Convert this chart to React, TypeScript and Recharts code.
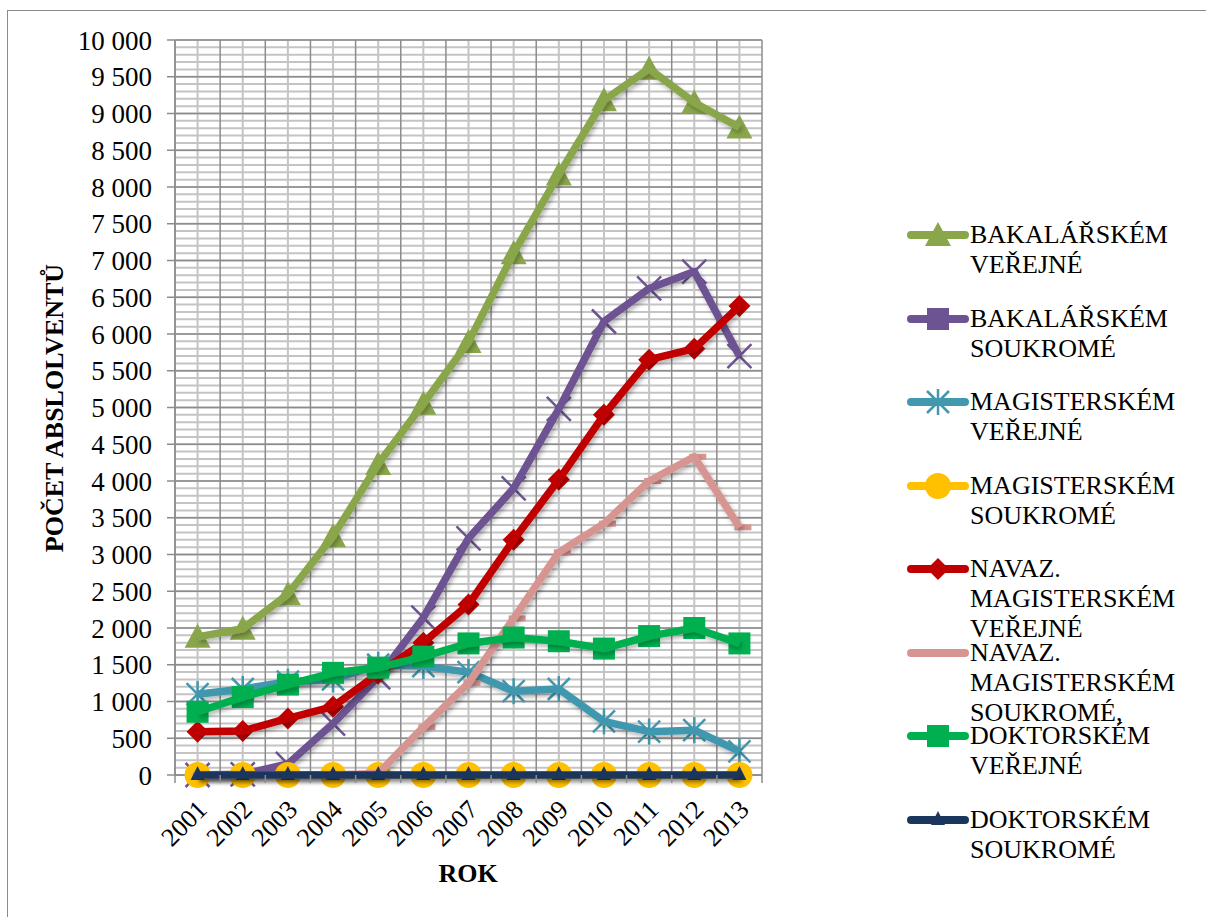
import React from 'react';
import { LineChart, Line, XAxis, YAxis, CartesianGrid } from 'recharts';

const years = ['2001', '2002', '2003', '2004', '2005', '2006', '2007', '2008', '2009', '2010', '2011', '2012', '2013'];

const bakalarskeVerejne = [1880, 1990, 2460, 3250, 4230, 5050, 5890, 7100, 8170, 9180, 9610, 9150, 8810];
const bakalarskeSoukrome = [0, 10, 150, 700, 1330, 2140, 3220, 3900, 4980, 6170, 6620, 6850, 5700];
const magisterskeVerejne = [1100, 1170, 1270, 1300, 1500, 1480, 1400, 1140, 1170, 730, 590, 610, 320];
const magisterskeSoukrome = [0, 0, 0, 0, 0, 0, 0, 0, 0, 0, 0, 0, 0];
const navazVerejne = [590, 600, 770, 930, 1380, 1800, 2320, 3200, 4020, 4900, 5650, 5800, 6380];
const navazSoukrome = [0, 0, 0, 0, 20, 650, 1250, 2130, 3030, 3420, 4000, 4330, 3370];
const doktorskeVerejne = [860, 1060, 1230, 1390, 1460, 1610, 1790, 1870, 1820, 1720, 1890, 2000, 1790];
const doktorskeSoukrome = [0, 0, 0, 0, 0, 0, 0, 0, 0, 0, 0, 0, 0];

const yTicks = [0, 500, 1000, 1500, 2000, 2500, 3000, 3500, 4000, 4500, 5000, 5500, 6000, 6500, 7000, 7500, 8000, 8500, 9000, 9500, 10000];

const series = [
  { key: 'bv', name: 'BAKALÁŘSKÉM VEŘEJNÉ', values: bakalarskeVerejne, color: '#8AA64B', marker: 'triangle' },
  { key: 'bs', name: 'BAKALÁŘSKÉM SOUKROMÉ', values: bakalarskeSoukrome, color: '#6D5392', marker: 'x' },
  { key: 'mv', name: 'MAGISTERSKÉM VEŘEJNÉ', values: magisterskeVerejne, color: '#4198AF', marker: 'star' },
  { key: 'ms', name: 'MAGISTERSKÉM SOUKROMÉ', values: magisterskeSoukrome, color: '#FFC000', marker: 'circle' },
  { key: 'nv', name: 'NAVAZ. MAGISTERSKÉM VEŘEJNÉ', values: navazVerejne, color: '#C00000', marker: 'diamond' },
  { key: 'ns', name: 'NAVAZ. MAGISTERSKÉM SOUKROMÉ,', values: navazSoukrome, color: '#D79592', marker: 'dash' },
  { key: 'dv', name: 'DOKTORSKÉM VEŘEJNÉ', values: doktorskeVerejne, color: '#00B050', marker: 'square' },
  { key: 'ds', name: 'DOKTORSKÉM SOUKROMÉ', values: doktorskeSoukrome, color: '#1B365D', marker: 'smalltriangle' },
];

const data = years.map((year, i) => {
  const row: Record<string, string | number> = { year };
  series.forEach((s) => {
    row[s.key] = s.values[i];
  });
  return row;
});

const FONT = '"Liberation Serif", "Times New Roman", serif';
const W = 1206;
const H = 917;
const PLOT_LEFT = 175;
const PLOT_TOP = 40;
const PLOT_W = 587;
const PLOT_H = 735;
const BAND = PLOT_W / years.length;

const minorY: number[] = [];
for (let v = 0; v <= 10000; v += 100) minorY.push(v);

const fmt = (v: number) => String(v).replace(/\B(?=(\d{3})+(?!\d))/g, ' ');

function marker(shape: string, color: string, cx: number, cy: number, key?: string) {
  switch (shape) {
    case 'triangle':
      return <polygon key={key} points={`${cx},${cy - 13} ${cx - 13},${cy + 11} ${cx + 13},${cy + 11}`} fill={color} />;
    case 'smalltriangle':
      return <polygon key={key} points={`${cx},${cy - 9} ${cx - 7},${cy + 5} ${cx + 7},${cy + 5}`} fill={color} />;
    case 'x':
      return (
        <g key={key} stroke={color} strokeWidth={2.5}>
          <line x1={cx - 12} y1={cy - 12} x2={cx + 12} y2={cy + 12} />
          <line x1={cx - 12} y1={cy + 12} x2={cx + 12} y2={cy - 12} />
        </g>
      );
    case 'star':
      return (
        <g key={key} stroke={color} strokeWidth={2.5}>
          <line x1={cx - 11} y1={cy - 11} x2={cx + 11} y2={cy + 11} />
          <line x1={cx - 11} y1={cy + 11} x2={cx + 11} y2={cy - 11} />
          <line x1={cx} y1={cy - 13} x2={cx} y2={cy + 13} />
        </g>
      );
    case 'circle':
      return <circle key={key} cx={cx} cy={cy} r={13} fill={color} />;
    case 'diamond':
      return <polygon key={key} points={`${cx},${cy - 11} ${cx + 11},${cy} ${cx},${cy + 11} ${cx - 11},${cy}`} fill={color} />;
    case 'dash':
      return <rect key={key} x={cx - 5} y={cy - 3} width={17} height={6} fill={color} />;
    case 'square':
      return <rect key={key} x={cx - 11} y={cy - 11} width={22} height={22} fill={color} />;
    default:
      return <g key={key} />;
  }
}

const makeDot = (shape: string, color: string) => (props: any) => {
  const { cx, cy, index } = props;
  if (cx == null || cy == null) return <g key={`d-${index}`} />;
  return <g key={`d-${index}`}>{marker(shape, color, cx, cy)}</g>;
};

const XTick = (props: any) => {
  const { x, y, payload, index } = props;
  const tx = x + 11;
  const ty = y + 36;
  return (
    <g>
      <line x1={x - BAND / 2} y1={y} x2={x - BAND / 2} y2={y + 8} stroke="#8C8C8C" strokeWidth={1.5} />
      {index === years.length - 1 && (
        <line x1={x + BAND / 2} y1={y} x2={x + BAND / 2} y2={y + 8} stroke="#8C8C8C" strokeWidth={1.5} />
      )}
      <text x={tx} y={ty} transform={`rotate(-45, ${tx}, ${ty})`} textAnchor="end" fontSize={26} fontFamily={FONT} fill="#000">
        {payload.value}
      </text>
    </g>
  );
};

const boundaryLines = ({ offset }: any) => {
  const out: number[] = [];
  for (let i = 0; i <= years.length; i++) out.push(offset.left + (i * offset.width) / years.length);
  return out;
};

const LegendIcon = ({ shape, color }: { shape: string; color: string }) => (
  <svg width={64} height={30} style={{ display: 'block' }}>
    <line x1={5} y1={15} x2={59} y2={15} stroke={color} strokeWidth={8} strokeLinecap="round" />
    {marker(shape === 'x' ? 'square' : shape, color, 32, 15)}
  </svg>
);

export default function App() {
  return (
    <div style={{ position: 'absolute', left: 0, top: 0, width: W, height: H, overflow: 'hidden', background: '#fff', fontFamily: FONT }}>
      <svg width={0} height={0} style={{ position: 'absolute' }}>
        <defs>
          <filter id="lineShadow" filterUnits="userSpaceOnUse" x={0} y={0} width={W} height={H}>
            <feDropShadow dx={2} dy={3} stdDeviation={2} floodColor="#000" floodOpacity={0.28} />
          </filter>
        </defs>
      </svg>
      <style>{`.shadowed { filter: url(#lineShadow); }`}</style>
      <div style={{ position: 'absolute', left: 7, top: 10, width: W, height: H, borderLeft: '1.5px solid #8C8C8C', borderTop: '1.5px solid #8C8C8C' }} />
      <div style={{ position: 'absolute', left: 0, top: 0 }}>
        <LineChart width={W} height={H} data={data} margin={{ top: PLOT_TOP, right: W - PLOT_LEFT - PLOT_W, bottom: 0, left: 0 }}>
          <CartesianGrid horizontalValues={minorY} verticalValues={years} stroke="#C4C4C4" strokeWidth={2} />
          <CartesianGrid horizontalValues={yTicks} verticalCoordinatesGenerator={boundaryLines} stroke="#8C8C8C" strokeWidth={1.5} />
          <XAxis
            dataKey="year"
            interval={0}
            padding={{ left: BAND / 2, right: BAND / 2 }}
            height={H - PLOT_TOP - PLOT_H}
            tickSize={0}
            tickMargin={0}
            tickLine={false}
            axisLine={{ stroke: '#8C8C8C', strokeWidth: 1.5 }}
            tick={<XTick />}
          />
          <YAxis
            width={PLOT_LEFT}
            domain={[0, 10000]}
            ticks={yTicks}
            interval={0}
            tickFormatter={fmt}
            tickSize={8}
            tickMargin={15}
            tickLine={{ stroke: '#8C8C8C', strokeWidth: 1.5 }}
            axisLine={{ stroke: '#8C8C8C', strokeWidth: 1.5 }}
            tick={{ fontSize: 27, fontFamily: FONT, fill: '#000' }}
          />
          {series.map((s) => (
            <Line
              key={s.key}
              className="shadowed"
              type="linear"
              dataKey={s.key}
              name={s.name}
              stroke={s.color}
              strokeWidth={7.5}
              strokeLinejoin="round"
              dot={makeDot(s.marker, s.color)}
              activeDot={false}
              isAnimationActive={false}
              {...({ zIndex: 600 } as any)}
            />
          ))}
        </LineChart>
      </div>
      <div style={{ position: 'absolute', left: 55, top: 408, transform: 'translate(-50%, -50%) rotate(-90deg)', whiteSpace: 'nowrap', fontWeight: 'bold', fontSize: 26 }}>
        POČET ABSLOLVENTŮ
      </div>
      <div style={{ position: 'absolute', left: 468, top: 874, transform: 'translate(-50%, -50%)', whiteSpace: 'nowrap', fontWeight: 'bold', fontSize: 26 }}>
        ROK
      </div>
      {series.map((s, i) => (
        <div key={s.key} style={{ position: 'absolute', left: 906, top: 220 + i * 83.5, display: 'flex', alignItems: 'flex-start' }}>
          <LegendIcon shape={s.marker} color={s.color} />
          <div style={{ fontSize: 26, lineHeight: '30px', color: '#000' }}>
            {s.name.split(' ').map((w, j) => (
              <div key={j}>{w}</div>
            ))}
          </div>
        </div>
      ))}
    </div>
  );
}
